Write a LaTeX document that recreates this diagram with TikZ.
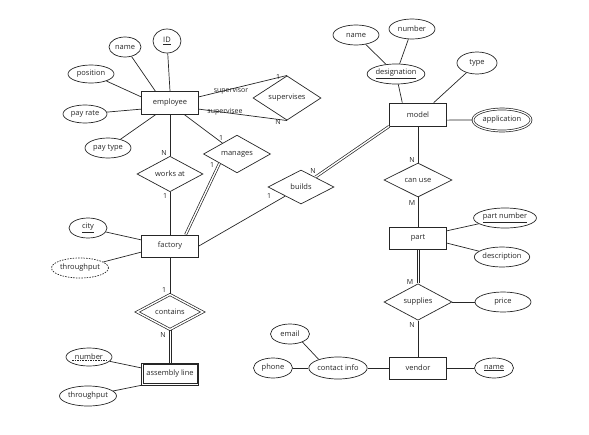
\documentclass[tikz,border=0pt]{standalone}
\usepackage{fontspec}
\setmainfont{Open Sans}
\usetikzlibrary{shapes.geometric}

\begin{document}
\begin{tikzpicture}[x=1pt, y=-1pt, line width=0.7pt, color=black!85, font=\fontsize{7.5}{9}\selectfont,
  entity/.style = {draw, rectangle, minimum width=57pt, minimum height=22pt, inner sep=0pt},
  rel/.style = {draw, diamond, minimum width=68pt, minimum height=34pt, inner sep=0pt},
  attr/.style = {draw, ellipse, minimum height=20pt, inner sep=0pt},
  card/.style = {inner sep=0pt, font=\fontsize{7}{8}\selectfont},
  dbl/.style = {double, double distance=1.4pt}]
  \useasboundingbox (0,0) rectangle (589,434);

  % Entities
  \node[entity, minimum height=23pt] (emp) at (170,103) {employee};
  \node[entity] (fac) at (170,246) {factory};
  \node[entity] (asm) at (170,374) {assembly line};
  \node[entity, minimum height=23pt] (mod) at (418,114.5) {model};
  \node[entity] (part) at (418,238) {part};
  \node[entity] (ven) at (418,368) {vendor};
  % inner frame of the weak entity
  \draw ([shift={(2pt,2pt)}]asm.south west) rectangle ([shift={(-2pt,-2pt)}]asm.north east);

  % Relationships
  \node[rel] (sup) at (287,98) {supervises};
  \node[rel, minimum width=67pt] (man) at (237,154) {manages};
  \node[rel, minimum width=66pt] (works) at (170,174) {works at};
  \node[rel, minimum width=66pt] (builds) at (301,187) {builds};
  \node[rel] (canuse) at (418,180) {can use};
  \node[rel, dbl, minimum width=66pt, minimum height=32pt] (contains) at (170,312) {contains};
  \node[rel] (supplies) at (418,302) {supplies};

  % Attributes
  \node[attr, minimum width=28pt, minimum height=24pt] (id) at (167,41) {\underline{ID}};
  \node[attr, minimum width=32pt] (ename) at (125,47) {name};
  \node[attr, minimum width=46pt, minimum height=18pt] (position) at (91,74) {position};
  \node[attr, minimum width=44pt, minimum height=18pt] (payrate) at (85,114) {pay rate};
  \node[attr, minimum width=46pt] (paytype) at (108,148) {pay type};
  \node[attr, minimum width=38pt] (city) at (88,228) {\underline{city}};
  \node[attr, dashed, dash pattern=on 1.5pt off 1.2pt, minimum width=57pt] (fthru) at (80,268) {throughput};
  \node[attr, minimum width=46pt, minimum height=18pt] (num) at (89,357) {number};
  \node[attr, minimum width=57pt] (athru) at (88,396) {throughput};
  \node[attr, minimum width=57pt] (desig) at (396,74) {\underline{designation}};
  \node[attr, minimum width=46pt] (mname) at (356,35) {name};
  \node[attr, minimum width=46pt] (mnum) at (412,29) {number};
  \node[attr, minimum width=40pt, minimum height=22pt] (type) at (477,63) {type};
  \node[attr, dbl, double distance=1.2pt, minimum width=58pt, minimum height=22pt] (app) at (502,120) {application};
  \node[attr, minimum width=61pt] (pnum) at (505,218) {\underline{part number}};
  \node[attr, minimum width=55pt] (desc) at (502,257) {description};
  \node[attr, minimum width=56pt] (price) at (503,302) {price};
  \node[attr, minimum width=39pt] (vname) at (494,368) {\underline{name}};
  \node[attr, minimum width=57pt, minimum height=22pt] (contact) at (338,368) {contact info};
  \node[attr, minimum width=39pt] (phone) at (273,368) {phone};
  \node[attr, minimum width=39pt] (email) at (290,334) {email};

  % dashed underline of the partial key
  \draw[line width=0.4pt, dash pattern=on 1.6pt off 1pt] ([shift={(-17pt,-3.4pt)}]num.center) -- ([shift={(18pt,-3.4pt)}]num.center);

  % Cardinalities
  \node[card] (c_sup1) at (278,77) {1};
  \node[card] (c_supN) at (278,122) {N};
  \node[card] (r_supv) at (231,91) {supervisor};
  \node[card] (r_supe) at (225,112) {supervisee};
  \node[card] (c_man1) at (221,138) {1};
  \node[card] (c_man2) at (212,165) {1};
  \node[card] (c_worN) at (164,153) {N};
  \node[card] (c_wor1) at (165,196) {1};
  \node[card] (c_bui1) at (269,196) {1};
  \node[card] (c_buiN) at (313,171) {N};
  \node[card] (c_canN) at (412,160) {N};
  \node[card] (c_canM) at (412,203) {M};
  \node[card] (c_supM) at (410,282) {M};
  \node[card] (c_spN) at (412,325) {N};
  \node[card] (c_con1) at (164,290) {1};
  \node[card] (c_conN) at (163,335) {N};

  % Paths
  \path[draw]
        (id) edge (emp.north)
        (ename) edge (emp.141)
        (position) edge (emp.168)
        (payrate) edge (emp.192)
        (paytype) edge (emp.219)
        (emp.12) edge (sup.north)
        (emp.-12) edge (sup.south)
        (emp.-39) edge (man)
        (man.208) edge[dbl] (fac.36)
        (emp.south) edge (works.north)
        (works.south) edge (fac.north)
        (city) edge (fac.168)
        (fthru) edge (fac.192)
        (fac.east) edge (builds)
        (builds) edge[dbl] (mod.south west)
        (fac.south) edge (contains.north)
        (num) edge (asm.168)
        (athru) edge (asm.south west)
        (mname) edge (desig)
        (mnum) edge (desig)
        (desig) edge (mod.143)
        (type) edge (mod.37)
        (mod.-11) edge (app.west)
        (mod.south) edge (canuse.north)
        (canuse.south) edge (part.north)
        (part.14) edge (pnum)
        (part.-10) edge (desc)
        (supplies.east) edge (price.west)
        (supplies.south) edge (ven.north)
        (ven.east) edge (vname.west)
        (ven.west) edge (contact.east)
        (contact.west) edge (phone.east)
        (email.-33) edge (contact.156);

  % double connectors (vertical)
  \foreach \dx in {-1.1pt, 1.1pt} {
    \draw ([xshift=\dx]contains.south) -- ([xshift=\dx]asm.north);
    \draw ([xshift=\dx]part.south) -- ([xshift=\dx]supplies.north);
  }
\end{tikzpicture}
\end{document}
